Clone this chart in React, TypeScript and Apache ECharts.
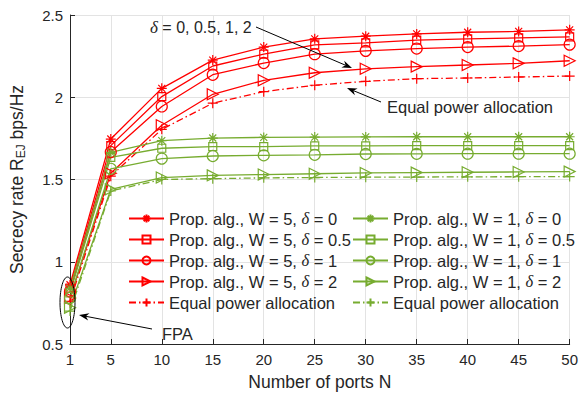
import React, { useEffect, useRef } from "react";
import * as echarts from "echarts";

const ports = [1, 5, 10, 15, 20, 25, 30, 35, 40, 45, 50];
const xTicks = [1, 5, 10, 15, 20, 25, 30, 35, 40, 45, 50];

const w5d0 = [0.86, 1.746, 2.054, 2.226, 2.305, 2.355, 2.371, 2.385, 2.395, 2.4, 2.41];
const w5d05 = [0.84, 1.706, 2.004, 2.19, 2.262, 2.318, 2.33, 2.347, 2.355, 2.361, 2.367];
const w5d1 = [0.82, 1.667, 1.944, 2.137, 2.208, 2.262, 2.282, 2.296, 2.305, 2.311, 2.32];
const w5d2 = [0.78, 1.538, 1.83, 2.018, 2.103, 2.149, 2.173, 2.186, 2.196, 2.206, 2.222];
const w5epa = [0.76, 1.52, 1.805, 1.964, 2.034, 2.073, 2.097, 2.113, 2.117, 2.123, 2.129];

const w1d0 = [0.84, 1.665, 1.736, 1.752, 1.756, 1.758, 1.759, 1.76, 1.76, 1.76, 1.76];
const w1d05 = [0.81, 1.635, 1.69, 1.7, 1.7, 1.704, 1.705, 1.706, 1.706, 1.706, 1.706];
const w1d1 = [0.78, 1.565, 1.627, 1.643, 1.647, 1.65, 1.655, 1.656, 1.657, 1.657, 1.657];
const w1d2 = [0.72, 1.44, 1.512, 1.525, 1.53, 1.535, 1.54, 1.542, 1.544, 1.546, 1.548];
const w1epa = [0.7, 1.43, 1.5, 1.505, 1.51, 1.512, 1.514, 1.515, 1.516, 1.517, 1.518];

const RED = "#ff0000";
const GREEN = "#77ac30";
const TXT = "#262626";
const SANS = "Liberation Sans, Arial, sans-serif";
const SERIF = "Liberation Serif, Times New Roman, serif";

const STAR = "path://M5,0L5,10M0,5L10,5M1.5,1.5L8.5,8.5M1.5,8.5L8.5,1.5";
const TRI = "path://M0,0L10,5L0,10Z";
const PLUS = "path://M5,0L5,10M0,5L10,5";

const labelOf: Record<string, string> = {
  w5a: "Prop. alg., W = 5, {d|δ} = 0",
  w5b: "Prop. alg., W = 5, {d|δ} = 0.5",
  w5c: "Prop. alg., W = 5, {d|δ} = 1",
  w5d: "Prop. alg., W = 5, {d|δ} = 2",
  w5e: "Equal power allocation",
  w1a: "Prop. alg., W = 1, {d|δ} = 0",
  w1b: "Prop. alg., W = 1, {d|δ} = 0.5",
  w1c: "Prop. alg., W = 1, {d|δ} = 1",
  w1d: "Prop. alg., W = 1, {d|δ} = 2",
  w1e: "Equal power allocation",
};

function mk(name: string, vals: number[], color: string, symbol: string, size: number | number[], dashed: boolean) {
  return {
    type: "line",
    name,
    data: ports.map((x, i) => [x, vals[i]]),
    symbol,
    symbolSize: size,
    symbolKeepAspect: true,
    lineStyle: { color, width: 1.3, type: dashed ? [7, 3, 1.5, 3] : "solid" },
    itemStyle: { color: "rgba(0,0,0,0)", borderColor: color, borderWidth: 1.2 },
    emphasis: { disabled: true },
    silent: true,
    z: 3,
  };
}

function arrow(x1: number, y1: number, x2: number, y2: number) {
  const dx = x2 - x1, dy = y2 - y1;
  const L = Math.sqrt(dx * dx + dy * dy);
  const ux = dx / L, uy = dy / L;
  const nx = -uy, ny = ux;
  const hl = 10, hw = 3.6, back = 7;
  return [
    { type: "line", z: 100, shape: { x1, y1, x2: x2 - ux * back, y2: y2 - uy * back }, style: { stroke: "#000", lineWidth: 1 } },
    {
      type: "polygon",
      z: 100,
      shape: {
        points: [
          [x2, y2],
          [x2 - ux * hl + nx * hw, y2 - uy * hl + ny * hw],
          [x2 - ux * back, y2 - uy * back],
          [x2 - ux * hl - nx * hw, y2 - uy * hl - ny * hw],
        ],
      },
      style: { fill: "#000" },
    },
  ];
}

export default function App() {
  const ref = useRef<HTMLDivElement>(null);
  useEffect(() => {
    if (!ref.current) return;
    const chart = echarts.init(ref.current, undefined, { renderer: "svg" });
    const legendBase = {
      orient: "vertical",
      itemWidth: 35,
      itemHeight: 10,
      itemGap: 4,
      padding: 0,
      selectedMode: false,
      textStyle: {
        fontFamily: SANS,
        fontSize: 16.5,
        color: TXT,
        rich: { d: { fontFamily: SERIF, fontStyle: "italic", fontSize: 16.5, color: TXT } },
      },
      formatter: (n: string) => labelOf[n] || n,
    };
    const option = {
      animation: false,
      backgroundColor: "#fff",
      grid: { left: 65, right: 7, top: 15, bottom: 45, containLabel: false },
      xAxis: {
        type: "value",
        min: 1,
        max: 50,
        name: "Number of ports N",
        nameLocation: "middle",
        nameGap: 29,
        nameTextStyle: { fontFamily: SANS, fontSize: 17.5, color: TXT },
        axisLine: { lineStyle: { color: TXT, width: 1 } },
        axisTick: { inside: true, length: 5, customValues: xTicks, lineStyle: { color: TXT } },
        axisLabel: { customValues: xTicks, fontFamily: SANS, fontSize: 15, color: TXT, margin: 8 },
        splitLine: { show: true, lineStyle: { color: "#e3e3e3", width: 1 } },
      },
      yAxis: {
        type: "value",
        min: 0.5,
        max: 2.5,
        interval: 0.5,
        name: "Secrecy rate R{sub|EJ} bps/Hz",
        nameLocation: "middle",
        nameGap: 43,
        nameTextStyle: {
          fontFamily: SANS,
          fontSize: 17.5,
          color: TXT,
          rich: { sub: { fontFamily: SANS, fontSize: 12, color: TXT, padding: [8, 0, 0, 0] } },
        },
        axisLine: { show: true, lineStyle: { color: TXT, width: 1 } },
        axisTick: { show: true, inside: true, length: 5, lineStyle: { color: TXT } },
        axisLabel: { fontFamily: SANS, fontSize: 15, color: TXT, margin: 7 },
        splitLine: { show: true, lineStyle: { color: "#e3e3e3", width: 1 } },
      },
      legend: [
        { ...legendBase, left: 128, top: 210, data: ["w5a", "w5b", "w5c", "w5d", "w5e"] },
        { ...legendBase, left: 352, top: 210, data: ["w1a", "w1b", "w1c", "w1d", "w1e"] },
      ],
      series: [
        mk("w5a", w5d0, RED, STAR, 10, false),
        mk("w5b", w5d05, RED, "rect", 8, false),
        mk("w5c", w5d1, RED, "circle", 11, false),
        mk("w5d", w5d2, RED, TRI, 11, false),
        mk("w5e", w5epa, RED, PLUS, 10, true),
        mk("w1a", w1d0, GREEN, STAR, 10, false),
        mk("w1b", w1d05, GREEN, "rect", 8, false),
        mk("w1c", w1d1, GREEN, "circle", 11, false),
        mk("w1d", w1d2, GREEN, TRI, 11, false),
        mk("w1e", w1epa, GREEN, PLUS, 10, true),
      ],
      graphic: [
        {
          type: "text",
          z: 100,
          x: 150,
          y: 27,
          style: {
            text: "{d|δ} = 0, 0.5, 1, 2",
            fontFamily: SANS,
            fontSize: 16,
            fill: TXT,
            verticalAlign: "middle",
            rich: { d: { fontFamily: SERIF, fontStyle: "italic", fontSize: 17, fill: TXT } },
          },
        },
        ...arrow(256, 27, 352, 68),
        {
          type: "text",
          z: 100,
          x: 387,
          y: 107,
          style: { text: "Equal power allocation", fontFamily: SANS, fontSize: 16.5, fill: TXT, verticalAlign: "middle" },
        },
        ...arrow(381, 102, 347, 88),
        { type: "ellipse", z: 100, shape: { cx: 67.5, cy: 302.5, rx: 7.5, ry: 25.5 }, style: { fill: "none", stroke: "#000", lineWidth: 1 } },
        ...arrow(152, 329, 79, 315),
        {
          type: "text",
          z: 100,
          x: 162,
          y: 334,
          style: { text: "FPA", fontFamily: SANS, fontSize: 16.5, fill: TXT, verticalAlign: "middle" },
        },
      ],
    };
    chart.setOption(option as any);
    return () => chart.dispose();
  }, []);
  return <div ref={ref} style={{ position: "fixed", left: 0, top: 0, width: 581, height: 396 }} />;
}
